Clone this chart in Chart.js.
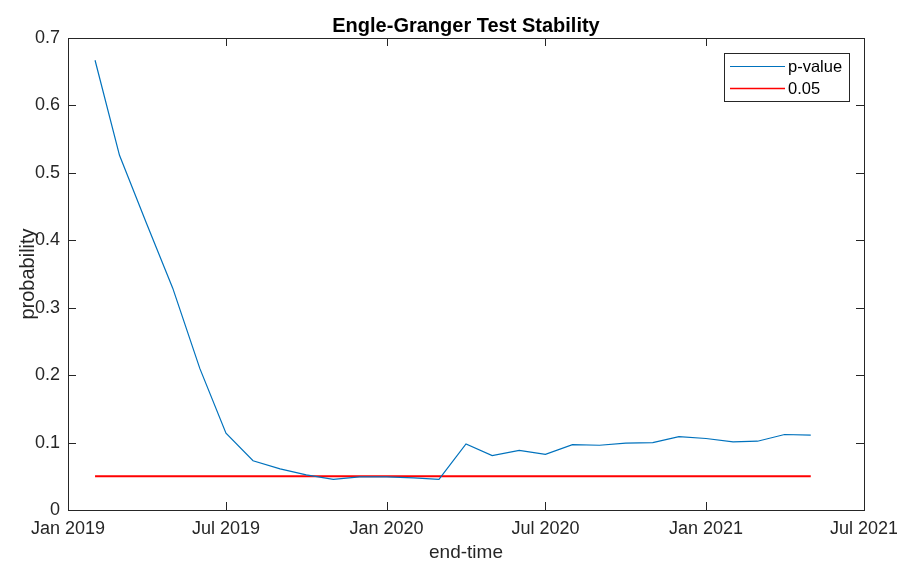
<!DOCTYPE html>
<html>
<head>
<meta charset="utf-8">
<script src="https://cdn.jsdelivr.net/npm/chart.js@4.4.0/dist/chart.umd.min.js"></script>
<style>
  html, body { margin: 0; padding: 0; background: #fff; }
  #wrap { width: 897px; height: 564px; }
</style>
</head>
<body>
<div id="wrap"><canvas id="c" width="897" height="564"></canvas></div>
<script>
// end-time of each test window (first of month)
const endTimes = [
  '2019-02-01', '2019-03-01', '2019-04-01', '2019-05-01', '2019-06-01', '2019-07-01',
  '2019-08-01', '2019-09-01', '2019-10-01', '2019-11-01', '2019-12-01', '2020-01-01',
  '2020-02-01', '2020-03-01', '2020-04-01', '2020-05-01', '2020-06-01', '2020-07-01',
  '2020-08-01', '2020-09-01', '2020-10-01', '2020-11-01', '2020-12-01', '2021-01-01',
  '2021-02-01', '2021-03-01', '2021-04-01', '2021-05-01'
];
const pValues = [
  0.667, 0.526, 0.425, 0.329, 0.210, 0.114,
  0.073, 0.061, 0.052, 0.0455, 0.049, 0.049,
  0.0475, 0.0455, 0.098, 0.0806, 0.0885, 0.0826,
  0.097, 0.096, 0.0993, 0.100, 0.1087, 0.106,
  0.101, 0.102, 0.112, 0.111
];
const threshold = 0.05;
const xTickDates = ['2019-01-01', '2019-07-01', '2020-01-01', '2020-07-01', '2021-01-01', '2021-07-01'];
const xTickLabels = ['Jan 2019', 'Jul 2019', 'Jan 2020', 'Jul 2020', 'Jan 2021', 'Jul 2021'];
const yTicks = [0, 0.1, 0.2, 0.3, 0.4, 0.5, 0.6, 0.7];

const FONT = 'Arial, "Liberation Sans", Helvetica, sans-serif';
const AXIS_COLOR = '#262626';

// dates -> days since origin, so a linear axis works without a date adapter
const ORIGIN = Date.UTC(2019, 0, 1);
const toDays = s => {
  const [y, m, d] = s.split('-').map(Number);
  return (Date.UTC(y, m - 1, d) - ORIGIN) / 86400000;
};
const xTickVals = xTickDates.map(toDays);

const pData = endTimes.map((t, i) => ({ x: toDays(t), y: pValues[i] }));
const thrData = endTimes.map(t => ({ x: toDays(t), y: threshold }));

// frame, inward ticks, title and legend, MATLAB style
const matlabDecor = {
  id: 'matlabDecor',
  afterDraw(chart) {
    const { ctx, chartArea: a, scales } = chart;
    ctx.save();
    ctx.strokeStyle = AXIS_COLOR;
    ctx.lineWidth = 1;
    ctx.strokeRect(a.left + 0.5, a.top + 0.5, a.right - a.left, a.bottom - a.top);
    ctx.beginPath();
    xTickVals.forEach(v => {
      const px = Math.round(scales.x.getPixelForValue(v)) + 0.5;
      ctx.moveTo(px, a.bottom); ctx.lineTo(px, a.bottom - 8);
      ctx.moveTo(px, a.top); ctx.lineTo(px, a.top + 8);
    });
    yTicks.forEach(v => {
      const py = Math.round(scales.y.getPixelForValue(v)) + 0.5;
      ctx.moveTo(a.left, py); ctx.lineTo(a.left + 8, py);
      ctx.moveTo(a.right, py); ctx.lineTo(a.right - 8, py);
    });
    ctx.stroke();

    // title
    ctx.fillStyle = '#000';
    ctx.font = 'bold 20px ' + FONT;
    ctx.textAlign = 'center';
    ctx.textBaseline = 'alphabetic';
    ctx.fillText('Engle-Granger Test Stability', (a.left + a.right) / 2, 32);

    // legend
    const lx = 724, ly = 53, lw = 125, lh = 48;
    ctx.fillStyle = '#fff';
    ctx.fillRect(lx, ly, lw, lh);
    ctx.strokeStyle = AXIS_COLOR;
    ctx.strokeRect(lx + 0.5, ly + 0.5, lw, lh);
    const items = [
      { label: 'p-value', color: '#0072BD', width: 1, y: ly + 13 },
      { label: '0.05', color: '#FF0000', width: 1.5, y: ly + 35 }
    ];
    ctx.font = '16.5px ' + FONT;
    ctx.textAlign = 'left';
    ctx.textBaseline = 'middle';
    items.forEach(it => {
      ctx.strokeStyle = it.color;
      ctx.lineWidth = it.width;
      ctx.beginPath();
      ctx.moveTo(lx + 6, it.y + 0.5); ctx.lineTo(lx + 61, it.y + 0.5);
      ctx.stroke();
      ctx.fillStyle = '#000';
      ctx.fillText(it.label, lx + 64, it.y + 1);
    });
    ctx.restore();
  }
};

const ctx = document.getElementById('c').getContext('2d');
new Chart(ctx, {
  type: 'line',
  data: {
    datasets: [
      {
        label: 'p-value',
        data: pData,
        borderColor: '#0072BD',
        borderWidth: 1.2,
        pointRadius: 0,
        fill: false,
        tension: 0,
      },
      {
        label: '0.05',
        data: thrData,
        borderColor: '#FF0000',
        borderWidth: 2,
        pointRadius: 0,
        fill: false,
        tension: 0,
      },
    ],
  },
  options: {
    responsive: false,
    animation: false,
    devicePixelRatio: 1,
    layout: { padding: { top: 38, right: 33, left: 0, bottom: 0 } },
    plugins: {
      legend: { display: false },
      tooltip: { enabled: false },
      title: { display: false },
    },
    scales: {
      x: {
        type: 'linear',
        min: xTickVals[0],
        max: xTickVals[xTickVals.length - 1],
        afterBuildTicks: s => { s.ticks = xTickVals.map(v => ({ value: v })); },
        afterFit: s => { s.height = 54; s.paddingLeft = 0; s.paddingRight = 0; },
        grid: { display: false, drawTicks: false },
        border: { display: false },
        ticks: {
          color: AXIS_COLOR,
          font: { size: 18, family: FONT },
          padding: 8,
          maxRotation: 0,
          autoSkip: false,
          callback: v => xTickLabels[xTickVals.indexOf(v)],
        },
        title: {
          display: true,
          text: 'end-time',
          color: AXIS_COLOR,
          font: { size: 19, family: FONT },
          padding: { top: 3, bottom: 0 },
        },
      },
      y: {
        min: 0,
        max: 0.7,
        afterBuildTicks: s => { s.ticks = yTicks.map(v => ({ value: v })); },
        afterFit: s => { s.width = 68; s.paddingTop = 0; s.paddingBottom = 0; },
        grid: { display: false, drawTicks: false },
        border: { display: false },
        ticks: {
          color: AXIS_COLOR,
          font: { size: 18, family: FONT },
          padding: 8,
          callback: v => (v === 0 ? '0' : v.toFixed(1)),
        },
        title: {
          display: true,
          text: 'probability',
          color: AXIS_COLOR,
          font: { size: 20, family: FONT },
          padding: { top: 16, bottom: 0 },
        },
      },
    },
  },
  plugins: [matlabDecor],
});
</script>
</body>
</html>
